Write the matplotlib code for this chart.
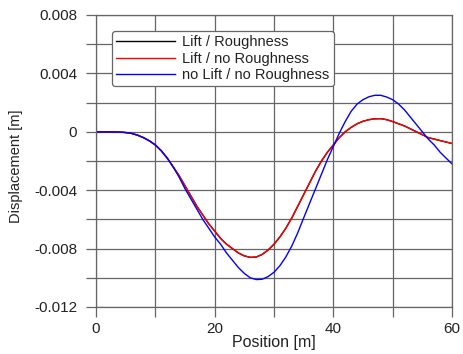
import matplotlib
matplotlib.use("Agg")
import matplotlib.pyplot as plt
from matplotlib.ticker import MultipleLocator, FuncFormatter

plt.rcParams["font.family"] = ["Liberation Sans", "DejaVu Sans"]
plt.rcParams["axes.unicode_minus"] = False

# values, every 1 m
position = list(range(0, 61))
lift_no_rough = [0.0, 0.0, 0.0, -0.00001, -0.00002, -0.00005, -0.00011, -0.00023,
                 -0.0004, -0.00062, -0.0009, -0.0013, -0.0018, -0.0024, -0.0030,
                 -0.0037, -0.0044, -0.0051, -0.0057, -0.0063, -0.0068, -0.0073,
                 -0.0077, -0.0080, -0.0083, -0.0085, -0.0086, -0.00858, -0.0084,
                 -0.0081, -0.0077, -0.0072, -0.0066, -0.0059, -0.0051, -0.0043,
                 -0.0035, -0.0027, -0.0020, -0.0014, -0.0009, -0.0004, 0.0,
                 0.0003, 0.00055, 0.00072, 0.00083, 0.00089, 0.0009, 0.00083,
                 0.0007, 0.00055, 0.0004, 0.0002, 0.0, -0.0002, -0.0004, -0.0005,
                 -0.0006, -0.0007, -0.0008]
lift_rough = list(lift_no_rough)  # hidden under the red curve
nolift_no_rough = [0.0, 0.0, 0.0, -0.00001, -0.00002, -0.00005, -0.00011, -0.00023,
                   -0.0004, -0.00062, -0.0009, -0.0013, -0.0018, -0.0024, -0.0031,
                   -0.0039, -0.0046, -0.0053, -0.0060, -0.0066, -0.0072, -0.0077,
                   -0.0083, -0.0088, -0.0093, -0.0097, -0.0100, -0.01012, -0.0101,
                   -0.00992, -0.00962, -0.00917, -0.00857, -0.00782, -0.00692,
                   -0.0059, -0.0049, -0.0039, -0.0029, -0.0019, -0.0010, -0.0001,
                   0.0007, 0.0014, 0.0019, 0.0022, 0.0024, 0.0025, 0.0025, 0.00238,
                   0.0022, 0.0019, 0.0015, 0.0010, 0.0005, 0.0, -0.0005, -0.0009,
                   -0.0014, -0.0018, -0.0022]

labels = ["Lift / Roughness", "Lift / no Roughness", "no Lift / no Roughness"]
colors = ["black", "red", "blue"]

fig = plt.figure(figsize=(4.64, 3.54), dpi=100)
ax = fig.add_axes([96 / 464, 1 - 307 / 354, 356 / 464, 292 / 354])

for ys, lab, c in zip([lift_rough, lift_no_rough, nolift_no_rough], labels, colors):
    ax.plot(position, ys, color=c, lw=1.0, label=lab)

ax.set_xlim(0, 60)
ax.set_ylim(-0.012, 0.008)
ax.xaxis.set_major_locator(MultipleLocator(20))
ax.xaxis.set_minor_locator(MultipleLocator(10))
ax.yaxis.set_major_locator(MultipleLocator(0.004))
ax.yaxis.set_minor_locator(MultipleLocator(0.002))
ax.yaxis.set_major_formatter(FuncFormatter(lambda v, p: "0" if abs(v) < 1e-9 else f"{v:.3f}"))
ax.grid(True, which="both", color="#666666", lw=0.9)
ax.set_axisbelow(True)
ax.tick_params(which="both", direction="out", length=7.5, width=0.9, color="#666666",
               labelsize=11, labelcolor="#222222")
ax.tick_params(axis="y", pad=6)
for s in ax.spines.values():
    s.set_color("#666666")
    s.set_linewidth(0.9)

ax.set_xlabel("Position [m]", fontsize=11.5, color="#222222", labelpad=-1)
ax.set_ylabel("Displacement [m]", fontsize=10.5, color="#222222")
ax.yaxis.set_label_coords(-0.205, 0.483)

leg = ax.legend(loc="upper left", bbox_to_anchor=(0.045, 0.945), fontsize=10.5,
                handlelength=4.0, handletextpad=0.5, labelspacing=0.15,
                borderpad=0.3, borderaxespad=0, fancybox=True, framealpha=1)
leg.get_frame().set_edgecolor("#666666")
leg.get_frame().set_linewidth(0.9)
for t in leg.get_texts():
    t.set_color("#222222")

fig.savefig("out.png", dpi=100)
